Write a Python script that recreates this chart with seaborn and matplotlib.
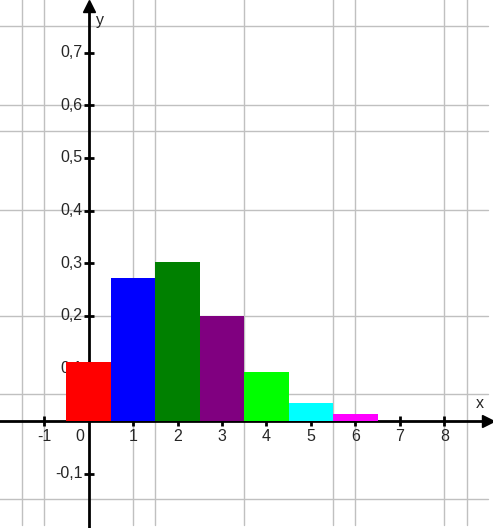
import matplotlib
matplotlib.use('Agg')
import matplotlib.pyplot as plt
import seaborn as sns
import pandas as pd

# values
k_values = [0, 1, 2, 3, 4, 5, 6]
probabilities = [0.112, 0.271, 0.302, 0.200, 0.093, 0.034, 0.013]
bar_colors = ['#ff0000', '#0000ff', '#008000', '#800080', '#00ff00', '#00ffff', '#ff00ff']
x_ticks = [-1, 1, 2, 3, 4, 5, 6, 7, 8]
y_ticks = [-0.1, 0.1, 0.2, 0.3, 0.4, 0.5, 0.6, 0.7]

df = pd.DataFrame({'x': k_values, 'p': probabilities})

sns.set_style('white')
plt.rcParams['font.family'] = ['Liberation Sans', 'DejaVu Sans']
fs = 11.5

fig = plt.figure(figsize=(4.93, 5.28), dpi=100)
ax = fig.add_axes([0, 0, 1, 1])

# background grid (irregular, as in the source image)
for gx in [-1.5, -1.0, 1.0, 1.5, 3.5, 5.5, 6.0, 8.0, 8.5]:
    ax.plot([gx, gx], [-0.197, 0.81], color='#c0c0c0', lw=1, zorder=0)
for gy in [0.751, 0.601, 0.552, 0.401, 0.200, 0.051, -0.148]:
    ax.plot([-2.1, 8.98], [gy, gy], color='#c0c0c0', lw=1, zorder=0)

# tick labels (drawn under the bars, "0,1" gets covered)
for t in x_ticks:
    ax.text(t, -0.030, str(t), ha='center', va='center', fontsize=fs, zorder=1)
ax.text(-0.2, -0.030, '0', ha='center', va='center', fontsize=fs, zorder=1)
for t in y_ticks:
    ax.text(-0.14, t, f'{t:.1f}'.replace('.', ','), ha='right', va='center',
            fontsize=fs, zorder=1)

# axes with arrows
ax.plot([-2.1, 8.85], [0, 0], color='black', lw=2, zorder=2)
ax.plot([0, 0], [-0.21, 0.78], color='black', lw=2, zorder=2)
ax.plot([8.98], [0], marker='>', color='black', markersize=9, zorder=2)
ax.plot([0], [0.788], marker='^', color='black', markersize=9, zorder=2)
ax.plot(x_ticks, [0] * len(x_ticks), ls='none', marker='|', color='black',
        markersize=7, mew=2, zorder=2)
ax.plot([0] * len(y_ticks), y_ticks, ls='none', marker='_', color='black',
        markersize=7, mew=2, zorder=2)
ax.text(8.8, 0.033, 'x', ha='center', va='center', fontsize=fs)
ax.text(0.25, 0.762, 'y', ha='center', va='center', fontsize=fs)

# the bars
sns.barplot(data=df, x='x', y='p', hue='x', palette=bar_colors, native_scale=True,
            width=1, saturation=1, legend=False, linewidth=0, ax=ax, zorder=3)

ax.set_xlim(-1.995, 9.096)
ax.set_ylim(-0.2034, 0.8002)
ax.set_xticks([])
ax.set_yticks([])
ax.set_xlabel('')
ax.set_ylabel('')
for s in ax.spines.values():
    s.set_visible(False)

fig.savefig('out.png', dpi=100)
